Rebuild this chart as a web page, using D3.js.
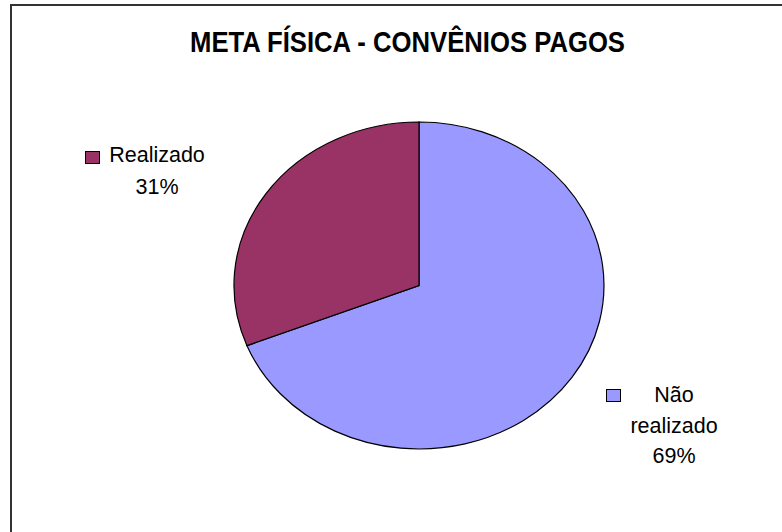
<!DOCTYPE html>
<html>
<head>
<meta charset="utf-8">
<script src="https://cdn.jsdelivr.net/npm/d3@7"></script>
<style>
  html, body { margin: 0; padding: 0; background: #fff; }
  svg { display: block; }
  text { font-family: Arial, "Liberation Sans", sans-serif; fill: #000; }
</style>
</head>
<body>
<svg id="chart" width="782" height="532"></svg>
<script>
// Pie data: physical goal for paid agreements
const categories = ["Não realizado", "Realizado"];
const values = [69, 31];
const colors = ["#9999FF", "#993366"];
const labelLines = [["Não", "realizado", "69%"], ["Realizado", "31%"]];
const title = "META FÍSICA - CONVÊNIOS PAGOS";

const svg = d3.select("#chart");

// Outer chart frame (continues past the right and bottom edges)
svg.append("rect")
  .attr("x", 11).attr("y", 5)
  .attr("width", 800).attr("height", 600)
  .attr("fill", "#fff")
  .attr("stroke", "#333").attr("stroke-width", 2);

// Title (condensed bold)
svg.append("text")
  .attr("x", 407.5).attr("y", 52)
  .attr("text-anchor", "middle")
  .attr("font-size", 29.5)
  .attr("font-weight", "bold")
  .attr("textLength", 435)
  .attr("lengthAdjust", "spacingAndGlyphs")
  .text(title);

// Elliptical pie: drawn on a unit circle, stretched horizontally
const cx = 419, cy = 285.5, rx = 185, ry = 163.5;
const pie = d3.pie().sort(null).value(d => d)(values);
const arc = d3.arc().innerRadius(0).outerRadius(1);

const g = svg.append("g")
  .attr("transform", `translate(${cx},${cy}) scale(${rx},${ry})`);

g.selectAll("path")
  .data(pie)
  .join("path")
  .attr("d", arc)
  .attr("fill", (d, i) => colors[i])
  .attr("stroke", "#000")
  .attr("stroke-width", 1.2)
  .attr("vector-effect", "non-scaling-stroke");

// Data labels with legend keys
const labelPos = [
  { x: 674, y: 402, key: [606, 389], lh: 30.5 },
  { x: 157, y: 162, key: [85, 151], lh: 32 }
];

labelPos.forEach((p, i) => {
  svg.append("rect")
    .attr("x", p.key[0] + 0.5).attr("y", p.key[1] + 0.5)
    .attr("width", 14).attr("height", 12)
    .attr("fill", colors[i])
    .attr("stroke", "#000").attr("stroke-width", 1);
  const t = svg.append("text")
    .attr("text-anchor", "middle")
    .attr("font-size", 21.5);
  labelLines[i].forEach((line, j) => {
    t.append("tspan")
      .attr("x", p.x)
      .attr("y", p.y + j * p.lh)
      .text(line);
  });
});
</script>
</body>
</html>
